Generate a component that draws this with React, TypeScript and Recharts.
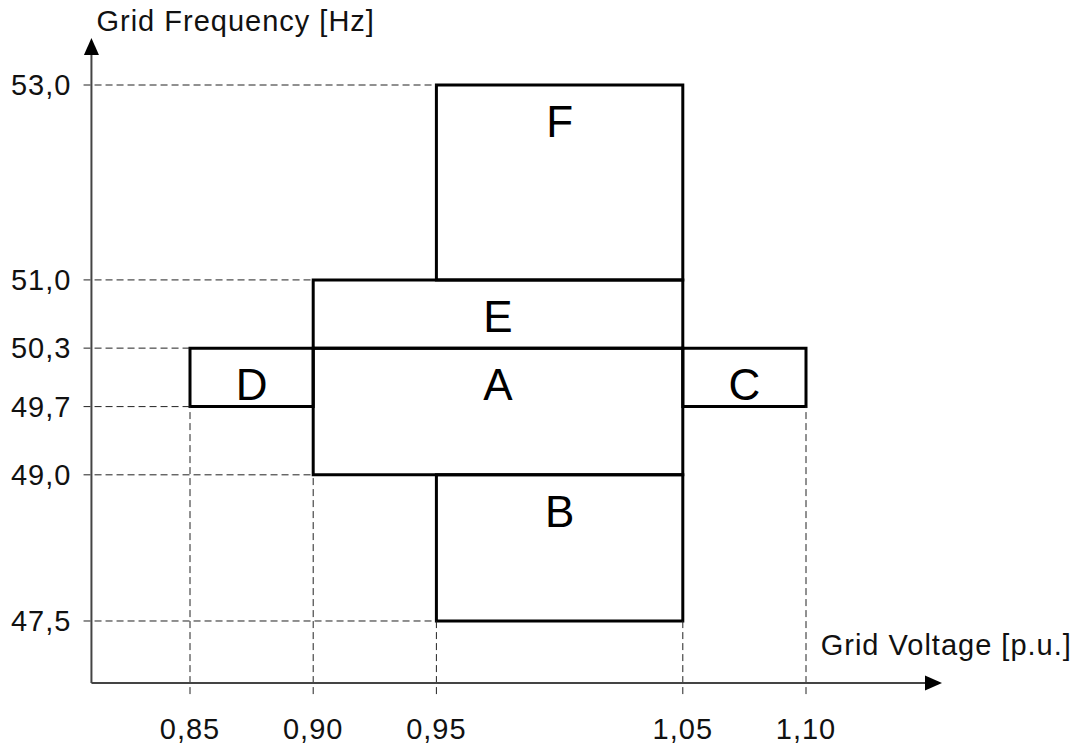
import React from 'react'
import { ComposedChart, XAxis, YAxis, ReferenceArea, ReferenceLine } from 'recharts'

// operating zones: voltage range [p.u.] x frequency range [Hz]
const zones = ['A', 'B', 'C', 'D', 'E', 'F']
const voltageMin = [0.9, 0.95, 1.05, 0.85, 0.9, 0.95]
const voltageMax = [1.05, 1.05, 1.1, 0.9, 1.05, 1.05]
const frequencyMin = [49.0, 47.5, 49.7, 49.7, 50.3, 51.0]
const frequencyMax = [50.3, 49.0, 50.3, 50.3, 51.0, 53.0]

const voltageTicks = [0.85, 0.9, 0.95, 1.05, 1.1]
const frequencyTicks = [47.5, 49.0, 49.7, 50.3, 51.0, 53.0]

const X_DOMAIN: [number, number] = [0.81, 1.16]
const Y_DOMAIN: [number, number] = [46.8638, 53.45]
const X_ARROW_TIP = 1.1552
const Y_ARROW_TIP = 53.482
const GUIDE_LEFT = 0.8068 // dashes start a bit left of the axis
const GUIDE_BOTTOM = 46.75 // and run a bit below it

const FONT = '"Liberation Sans", Arial, sans-serif'
const fmt = (d: number) => (v: number) => v.toFixed(d).replace('.', ',')
const textStyle = { fill: '#111', fontSize: 29, fontFamily: FONT, letterSpacing: 1 }

// guide for each tick ends at the nearest box edge
function guideEndForFrequency(f: number) {
  let best = Infinity
  zones.forEach((_, i) => {
    if (frequencyMin[i] === f || frequencyMax[i] === f) best = Math.min(best, voltageMin[i])
  })
  return best
}
function guideEndForVoltage(v: number) {
  let best = Infinity
  zones.forEach((_, i) => {
    if (voltageMin[i] === v || voltageMax[i] === v) best = Math.min(best, frequencyMin[i])
  })
  return best
}

function ArrowLine(props: any) {
  const { x1, y1, x2, y2 } = props
  const len = Math.hypot(x2 - x1, y2 - y1) || 1
  const ux = (x2 - x1) / len
  const uy = (y2 - y1) / len
  const head = 17
  const half = 7.5
  const bx = x2 - ux * head
  const by = y2 - uy * head
  const pts = `${x2},${y2} ${bx - uy * half},${by + ux * half} ${bx + uy * half},${by - ux * half}`
  return (
    <g>
      <line x1={x1} y1={y1} x2={bx} y2={by} stroke="#444" strokeWidth={2} />
      <polygon points={pts} fill="#000" />
    </g>
  )
}

export default function App() {
  return (
    <div style={{ position: 'absolute', left: 0, top: 0, background: '#fff' }}>
      <ComposedChart
        width={1081}
        height={747}
        data={[]}
        margin={{ top: 41.15, right: 127.16, bottom: 0, left: 0 }}
        style={{ fontFamily: FONT }}
      >
        <XAxis
          type="number"
          dataKey="v"
          domain={X_DOMAIN}
          allowDataOverflow
          ticks={voltageTicks}
          tickFormatter={fmt(2)}
          axisLine={false}
          tickLine={false}
          tickSize={0}
          tickMargin={35}
          height={64}
          tick={textStyle}
          label={{
            content: (p: any) => {
              const vb = p.viewBox
              return (
                <text x={vb.x + vb.width + 118} y={vb.y - 28} textAnchor="end" {...textStyle}>
                  Grid Voltage [p.u.]
                </text>
              )
            },
          }}
        />
        <YAxis
          type="number"
          dataKey="f"
          domain={Y_DOMAIN}
          allowDataOverflow
          ticks={frequencyTicks}
          tickFormatter={fmt(1)}
          axisLine={false}
          tickLine={false}
          tickSize={0}
          tickMargin={20}
          width={91.44}
          tick={textStyle}
          label={{
            content: (p: any) => {
              const vb = p.viewBox
              return (
                <text x={vb.x + vb.width + 5} y={vb.y - 10} textAnchor="start" {...textStyle}>
                  Grid Frequency [Hz]
                </text>
              )
            },
          }}
        />

        {frequencyTicks.map((f) => (
          <ReferenceLine
            key={'h' + f}
            segment={[{ x: GUIDE_LEFT, y: f }, { x: guideEndForFrequency(f), y: f }]}
            stroke="#222"
            strokeWidth={1}
            strokeDasharray="7 4"
            ifOverflow="visible"
          />
        ))}
        {voltageTicks.map((v) => (
          <ReferenceLine
            key={'v' + v}
            segment={[{ x: v, y: GUIDE_BOTTOM }, { x: v, y: guideEndForVoltage(v) }]}
            stroke="#222"
            strokeWidth={1}
            strokeDasharray="7 4"
            ifOverflow="visible"
          />
        ))}

        {zones.map((z, i) => (
          <ReferenceArea
            key={z}
            x1={voltageMin[i]}
            x2={voltageMax[i]}
            y1={frequencyMin[i]}
            y2={frequencyMax[i]}
            stroke="#000"
            strokeWidth={3}
            fill="#fff"
            fillOpacity={0}
            ifOverflow="visible"
            label={{ value: z, position: 'insideTop', offset: 21, fontSize: 44, fill: '#000', fontFamily: FONT }}
          />
        ))}

        <ReferenceLine
          segment={[{ x: X_DOMAIN[0], y: Y_DOMAIN[0] }, { x: X_ARROW_TIP, y: Y_DOMAIN[0] }]}
          ifOverflow="visible"
          shape={ArrowLine}
        />
        <ReferenceLine
          segment={[{ x: X_DOMAIN[0], y: Y_DOMAIN[0] }, { x: X_DOMAIN[0], y: Y_ARROW_TIP }]}
          ifOverflow="visible"
          shape={ArrowLine}
        />
      </ComposedChart>
    </div>
  )
}
